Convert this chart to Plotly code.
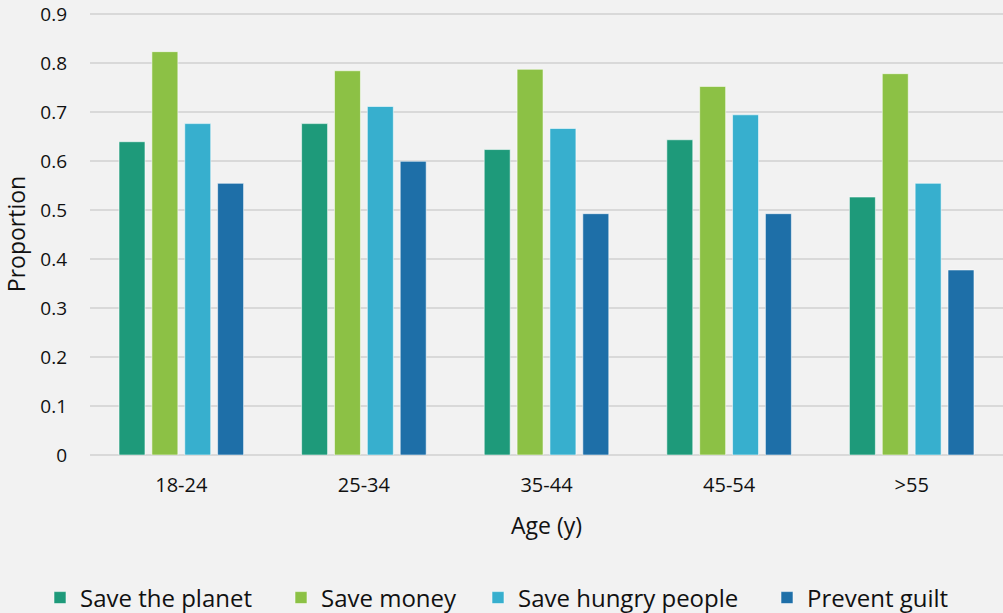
import plotly.graph_objects as go

categories = ["18-24", "25-34", "35-44", "45-54", ">55"]
save_planet = [0.640, 0.677, 0.624, 0.644, 0.527]
save_money = [0.824, 0.785, 0.788, 0.753, 0.779]
save_hungry = [0.677, 0.712, 0.667, 0.695, 0.555]
prevent_guilt = [0.555, 0.600, 0.493, 0.493, 0.378]
y_ticks = [0, 0.1, 0.2, 0.3, 0.4, 0.5, 0.6, 0.7, 0.8, 0.9]

series = [
    ("Save the planet", save_planet, "#1e9a7a"),
    ("Save money", save_money, "#8cc145"),
    ("Save hungry people", save_hungry, "#37afce"),
    ("Prevent guilt", prevent_guilt, "#1e6fa8"),
]
legend_x_px = [40, 281, 478, 767]

font_family = "Open Sans, DejaVu Sans, sans-serif"
text_color = "#111111"

fig = go.Figure()
legend_ids = ["legend", "legend2", "legend3", "legend4"]
for (name, vals, color), lid in zip(series, legend_ids):
    fig.add_trace(go.Bar(
        x=categories, y=vals, name=name, legend=lid,
        marker=dict(color=color, line=dict(color="rgba(255,255,255,0.55)", width=1)),
    ))

legend_layouts = {}
for lid, xpx in zip(legend_ids, legend_x_px):
    legend_layouts[lid] = dict(
        orientation="h", xref="container", yref="container",
        x=xpx / 1003, y=15 / 613, xanchor="left", yanchor="middle",
        font=dict(size=24, family=font_family, color=text_color),
        bgcolor="rgba(0,0,0,0)",
    )

fig.update_layout(
    width=1003, height=613,
    paper_bgcolor="#f2f2f2", plot_bgcolor="#f2f2f2",
    margin=dict(l=90, r=0, t=13, b=158, autoexpand=False),
    barmode="group", bargap=0.28, bargroupgap=0.21,
    font=dict(family=font_family, color=text_color, size=20),
    showlegend=True,
    xaxis=dict(
        title=dict(text="Age (y)", font=dict(size=23), standoff=20),
        showgrid=False, showline=False, zeroline=False, automargin=False,
        tickfont=dict(size=20), ticks="", ticklabelstandoff=16,
    ),
    yaxis=dict(
        title=dict(text="Proportion", font=dict(size=23), standoff=18),
        range=[0, 0.903], tickvals=y_ticks, ticktext=[f"{v:g}" for v in y_ticks],
        showgrid=True, gridcolor="#d9d9d9", gridwidth=1.5,
        zeroline=True, zerolinecolor="#d9d9d9", zerolinewidth=1.5,
        showline=False, ticks="", ticklabelstandoff=22, automargin=False,
        ticklabeloverflow="allow",
        tickfont=dict(size=19),
    ),
    **legend_layouts,
)

fig.write_html("out.html")
